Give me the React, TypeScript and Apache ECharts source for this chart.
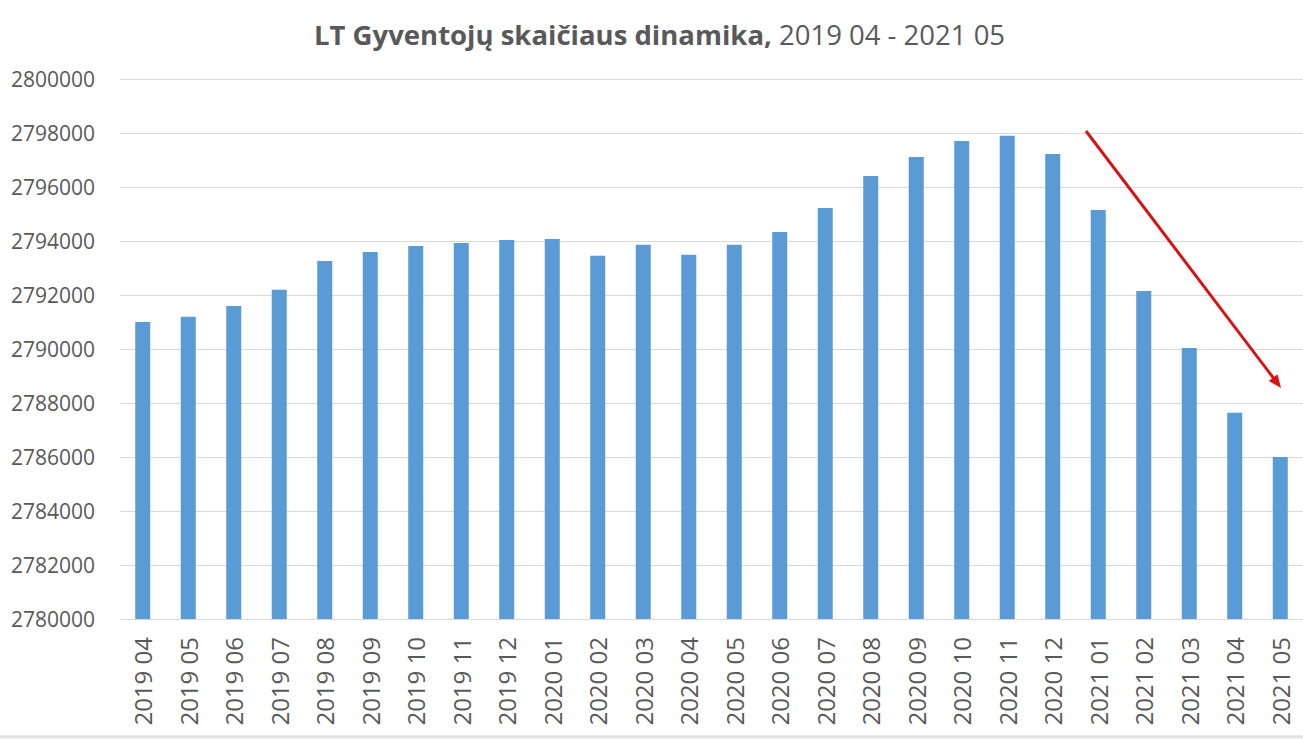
import React, { useEffect, useRef } from "react";
import * as echarts from "echarts";

const categories = [
  "2019 04", "2019 05", "2019 06", "2019 07", "2019 08", "2019 09", "2019 10", "2019 11", "2019 12",
  "2020 01", "2020 02", "2020 03", "2020 04", "2020 05", "2020 06", "2020 07", "2020 08", "2020 09",
  "2020 10", "2020 11", "2020 12", "2021 01", "2021 02", "2021 03", "2021 04", "2021 05",
];

const population = [
  2791000, 2791190, 2791590, 2792190, 2793260, 2793590, 2793815, 2793925, 2794035,
  2794075, 2793455, 2793865, 2793490, 2793865, 2794335, 2795220, 2796405, 2797110,
  2797705, 2797895, 2797225, 2795150, 2792150, 2790040, 2787640, 2786000,
];

const yMin = 2780000;
const yMax = 2800000;
const yStep = 2000;

const TEXT = "#595959";
const FONT = "'Open Sans', 'Noto Sans', sans-serif";

export default function App() {
  const ref = useRef<HTMLDivElement>(null);

  useEffect(() => {
    if (!ref.current) return;
    const chart = echarts.init(ref.current, null, { renderer: "svg" });

    // arrow annotation geometry
    const x1 = 1086, y1 = 131, tx = 1281, ty = 388;
    const dx = tx - x1, dy = ty - y1;
    const len = Math.sqrt(dx * dx + dy * dy);
    const ux = dx / len, uy = dy / len;
    const headL = 13, headW = 5.5;
    const bx = tx - ux * headL, by = ty - uy * headL;
    const px = -uy * headW, py = ux * headW;

    chart.setOption({
      animation: false,
      backgroundColor: "#ffffff",
      title: {
        text: "{b|LT Gyventojų skaičiaus dinamika,}{n| 2019 04 - 2021 05}",
        left: 309,
        top: 15,
        textStyle: {
          rich: {
            b: { fontFamily: FONT, fontSize: 27.5, fontWeight: "bold", color: TEXT },
            n: { fontFamily: FONT, fontSize: 27.5, fontWeight: "normal", color: TEXT },
          },
        },
      },
      grid: { left: 120, right: 0, top: 79, bottom: 120, containLabel: false },
      xAxis: {
        type: "category",
        data: categories,
        axisLine: { show: true, lineStyle: { color: "#D9D9D9", width: 1 } },
        axisTick: { show: false },
        axisLabel: {
          interval: 0,
          rotate: 90,
          margin: 18,
          fontSize: 24,
          fontFamily: FONT,
          color: TEXT,
        },
      },
      yAxis: {
        type: "value",
        min: yMin,
        max: yMax,
        interval: yStep,
        axisLine: { show: false },
        axisTick: { show: false },
        splitLine: { lineStyle: { color: "#D9D9D9", width: 1 } },
        axisLabel: {
          margin: 25,
          fontSize: 21,
          fontFamily: FONT,
          color: TEXT,
          formatter: (v: number) => String(v),
        },
      },
      series: [
        {
          type: "bar",
          data: population,
          barWidth: "33%",
          itemStyle: { color: "#5B9BD5" },
        },
      ],
      graphic: [
        {
          type: "line",
          shape: { x1, y1, x2: bx + ux * 2, y2: by + uy * 2 },
          style: { stroke: "#D41515", lineWidth: 3 },
          z: 100,
        },
        {
          type: "polygon",
          shape: {
            points: [
              [tx, ty],
              [bx + px, by + py],
              [bx - px, by - py],
            ],
          },
          style: { fill: "#D41515" },
          z: 100,
        },
        {
          type: "rect",
          shape: { x: 0, y: 736, width: 1303, height: 3 },
          style: { fill: "#EEEEEE" },
          z: 100,
        },
        {
          type: "line",
          shape: { x1: 0, y1: 736, x2: 1303, y2: 736 },
          style: { stroke: "#D0D0D0", lineWidth: 1 },
          z: 100,
        },
      ],
    });

    return () => chart.dispose();
  }, []);

  return (
    <div
      ref={ref}
      style={{ position: "fixed", left: 0, top: 0, width: 1303, height: 739 }}
    />
  );
}
